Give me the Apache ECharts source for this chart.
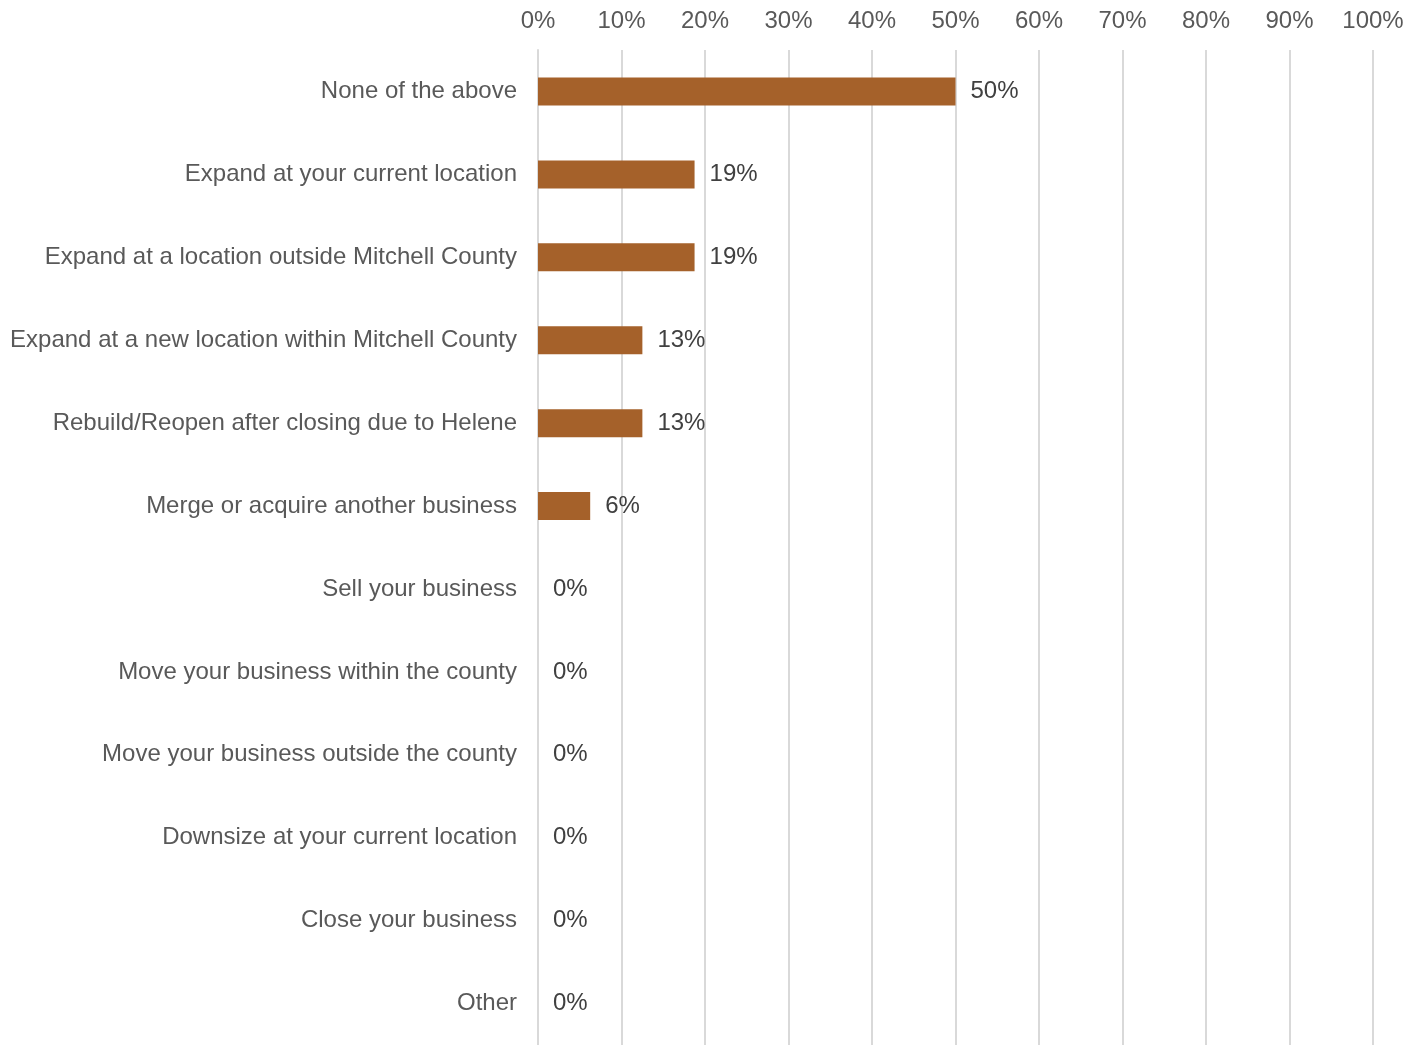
<!DOCTYPE html>
<html><head><meta charset="utf-8">
<script src="https://cdn.jsdelivr.net/npm/echarts@6/dist/echarts.min.js"></script>
<style>html,body{margin:0;padding:0;background:#fff}#c{width:1426px;height:1045px}</style>
</head><body><div id="c"></div>
<script>
const categories = ["None of the above","Expand at your current location","Expand at a location outside Mitchell County","Expand at a new location within Mitchell County","Rebuild/Reopen after closing due to Helene","Merge or acquire another business","Sell your business","Move your business within the county","Move your business outside the county","Downsize at your current location","Close your business","Other"];
const values = [50, 18.75, 18.75, 12.5, 12.5, 6.25, 0, 0, 0, 0, 0, 0];
const chart = echarts.init(document.getElementById('c'));
const font = 'Liberation Sans, Arial, sans-serif';
chart.setOption({
  animation:false,
  grid:{left:538,top:50,width:835,bottom:-2,containLabel:false},
  xAxis:{type:'value',position:'top',min:0,max:100,interval:10,
    axisLabel:{formatter:'{value}%',color:'#595959',fontSize:24,fontFamily:font,margin:17},
    axisLine:{show:false},axisTick:{show:false},
    splitLine:{lineStyle:{color:'#d9d9d9',width:2}}},
  yAxis:{type:'category',data:categories,inverse:true,
    axisLabel:{color:'#595959',fontSize:24,fontFamily:font,margin:21,padding:[0,0,2,0]},
    axisLine:{show:true,lineStyle:{color:'#d9d9d9',width:2}},axisTick:{show:false}},
  series:[{type:'bar',data:values,barWidth:28,itemStyle:{color:'#A5612A'},
    label:{show:true,position:'right',distance:15,color:'#404040',fontSize:24,fontFamily:font,padding:[0,0,2,0],
      formatter:p=>Math.round(p.value)+'%'}}]
});
</script></body></html>
